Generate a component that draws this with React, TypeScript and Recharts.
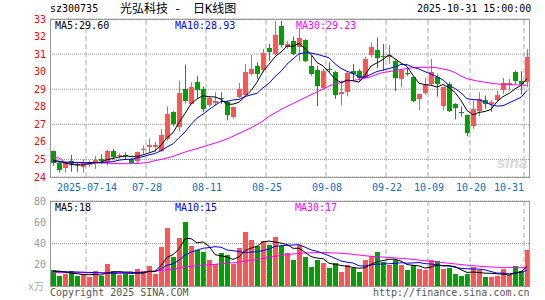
import React from "react";
import {
  Bar,
  CartesianGrid,
  ComposedChart,
  Line,
  ReferenceLine,
  XAxis,
  YAxis,
} from "recharts";

// trading days shown (2025)
const DATES = [
  "07-04", "07-07", "07-08", "07-09", "07-10", "07-11", "07-14", "07-15", "07-16", "07-17",
  "07-18", "07-21", "07-22", "07-23", "07-24", "07-25", "07-28", "07-29", "07-30", "07-31",
  "08-01", "08-04", "08-05", "08-06", "08-07", "08-08", "08-11", "08-12", "08-13", "08-14",
  "08-15", "08-18", "08-19", "08-20", "08-21", "08-22", "08-25", "08-26", "08-27", "08-28",
  "08-29", "09-01", "09-02", "09-03", "09-04", "09-05", "09-08", "09-09", "09-10", "09-11",
  "09-12", "09-15", "09-16", "09-17", "09-18", "09-19", "09-22", "09-23", "09-24", "09-25",
  "09-26", "09-29", "09-30", "10-09", "10-10", "10-13", "10-14", "10-15", "10-16", "10-17",
  "10-20", "10-21", "10-22", "10-23", "10-24", "10-27", "10-28", "10-29", "10-30", "10-31",
];

const TICK_DATES = ["07-14", "07-28", "08-11", "08-25", "09-08", "09-22", "10-09", "10-20", "10-31"];

const OPEN = [
  25.47, 24.8, 24.5, 24.9, 24.75, 24.55, 24.7, 24.8, 25.0, 24.87,
  25.48, 25.2, 25.25, 25.05, 24.87, 25.52, 25.68, 25.68, 25.53, 26.13,
  27.7, 26.85, 29.02, 28.21, 29.43, 29.02, 28.08, 28.21, 28.5, 28.26,
  27.42, 28.55, 28.64, 29.87, 30.34, 30.06, 31.32, 31.0, 32.6, 31.4,
  31.75, 31.38, 31.81, 30.34, 30.11, 29.11, 30.15, 30.0, 28.74, 28.83,
  30.05, 30.06, 29.68, 30.91, 31.25, 30.92, 30.85, 30.62, 29.58, 29.92,
  29.72, 28.42, 28.77, 29.3, 29.72, 28.02, 29.3, 28.13, 27.7, 27.51,
  26.94, 27.79, 28.4, 28.13, 28.42, 28.92, 29.25, 29.96, 29.45, 29.45,
];
const HIGH = [
  25.5, 24.85, 24.85, 25.25, 24.85, 25.0, 24.95, 25.2, 25.3, 25.55,
  25.6, 25.35, 25.4, 25.1, 25.45, 25.8, 26.19, 26.0, 26.72, 28.02,
  27.75, 29.49, 30.4, 29.4, 29.74, 29.15, 28.58, 28.83, 28.83, 28.36,
  28.0, 29.36, 30.43, 30.96, 30.53, 31.3, 31.57, 32.89, 32.89, 31.75,
  32.0, 32.51, 31.85, 30.91, 30.34, 30.15, 30.53, 30.05, 29.49, 30.0,
  30.43, 30.15, 30.85, 31.66, 31.94, 31.57, 31.53, 30.72, 30.15, 30.15,
  29.75, 28.75, 29.64, 30.72, 29.85, 29.15, 29.4, 28.2, 28.02, 27.55,
  28.36, 28.83, 28.64, 28.36, 28.92, 29.64, 29.58, 30.06, 30.02, 31.28,
];
const LOW = [
  24.65, 24.25, 24.25, 24.3, 24.3, 24.25, 24.55, 24.45, 24.75, 24.65,
  25.0, 25.05, 24.98, 24.8, 24.8, 25.3, 25.43, 25.43, 25.43, 26.06,
  26.89, 26.6, 28.23, 28.13, 28.45, 27.7, 27.98, 28.08, 28.17, 27.23,
  27.32, 28.5, 28.58, 29.77, 29.58, 29.96, 30.62, 30.94, 31.38, 31.3,
  30.95, 30.62, 30.53, 29.77, 28.04, 29.02, 29.96, 28.45, 28.08, 28.6,
  29.5, 29.49, 29.64, 30.81, 30.21, 30.06, 30.43, 28.89, 29.11, 29.77,
  28.26, 27.79, 28.68, 29.25, 28.58, 27.79, 27.7, 27.28, 27.45, 26.32,
  26.75, 27.45, 27.89, 27.7, 28.32, 28.74, 28.92, 29.3, 28.7, 29.11,
];
const CLOSE = [
  24.77, 24.4, 24.77, 24.75, 24.7, 24.8, 24.85, 24.95, 24.9, 25.47,
  25.15, 25.25, 25.2, 24.85, 25.4, 25.6, 25.81, 25.81, 26.42, 27.57,
  27.0, 28.77, 28.36, 29.15, 28.96, 27.89, 28.49, 28.32, 28.47, 27.51,
  27.98, 29.02, 29.96, 30.15, 29.87, 31.04, 31.09, 32.09, 31.51, 31.55,
  31.0, 31.89, 30.62, 29.87, 29.21, 30.06, 30.1, 28.68, 28.83, 29.91,
  29.9, 29.68, 30.75, 31.38, 30.81, 30.89, 30.96, 29.68, 30.09, 29.88,
  28.36, 28.7, 29.25, 29.96, 29.34, 29.11, 27.79, 27.89, 27.68, 26.47,
  27.89, 28.45, 28.17, 28.26, 28.68, 29.34, 29.36, 29.45, 29.26, 30.85,
];

const MA5 = [
  24.96, 24.9, 24.8, 24.72, 24.68, 24.69, 24.77, 24.81, 24.84, 24.99,
  25.06, 25.14, 25.19, 25.18, 25.17, 25.26, 25.37, 25.49, 25.81, 26.24,
  26.52, 27.11, 27.62, 28.17, 28.45, 28.63, 28.57, 28.56, 28.43, 28.14,
  28.15, 28.26, 28.59, 28.92, 29.4, 30.01, 30.42, 30.85, 31.12, 31.46,
  31.45, 31.61, 31.31, 30.99, 30.52, 30.33, 29.97, 29.58, 29.38, 29.52,
  29.48, 29.4, 29.81, 30.32, 30.5, 30.7, 30.96, 30.74, 30.49, 30.3,
  29.79, 29.34, 29.26, 29.23, 29.12, 29.27, 29.09, 28.82, 28.36, 27.79,
  27.54, 27.68, 27.73, 27.85, 28.29, 28.58, 28.76, 29.02, 29.22, 29.6,
];
const MA10 = [
  24.87, 24.86, 24.85, 24.84, 24.83, 24.82, 24.82, 24.82, 24.83, 24.84,
  24.88, 24.96, 25.0, 25.01, 25.08, 25.16, 25.26, 25.34, 25.5, 25.71,
  25.89, 26.24, 26.56, 26.99, 27.35, 27.58, 27.84, 28.09, 28.3, 28.3,
  28.39, 28.42, 28.58, 28.68, 28.77, 29.08, 29.34, 29.72, 30.02, 30.43,
  30.73, 31.02, 31.08, 31.06, 30.99, 30.89, 30.79, 30.45, 30.19, 30.02,
  29.91, 29.69, 29.7, 29.85, 30.01, 30.09, 30.18, 30.28, 30.41, 30.4,
  30.25, 30.15, 30.0, 29.86, 29.71, 29.53, 29.22, 29.04, 28.8, 28.46,
  28.41, 28.39, 28.28, 28.11, 28.04, 28.06, 28.22, 28.38, 28.54, 28.93,
];
const MA30 = [
  25.1, 25.08, 24.82, 24.81, 24.81, 24.81, 24.81, 24.8, 24.8, 24.79,
  24.77, 24.76, 24.76, 24.76, 24.77, 24.8, 24.84, 24.93, 25.0, 25.08,
  25.17, 25.3, 25.42, 25.52, 25.62, 25.72, 25.83, 25.93, 26.04, 26.17,
  26.32, 26.48, 26.64, 26.8, 26.98, 27.2, 27.45, 27.65, 27.85, 28.02,
  28.18, 28.35, 28.52, 28.68, 28.85, 29.0, 29.18, 29.3, 29.38, 29.45,
  29.5, 29.55, 29.62, 29.72, 29.85, 29.95, 30.0, 30.07, 30.12, 30.18,
  30.22, 30.24, 30.25, 30.25, 30.22, 30.15, 30.08, 29.95, 29.75, 29.6,
  29.52, 29.45, 29.4, 29.34, 29.3, 29.28, 29.26, 29.25, 29.24, 29.23,
];

// volume, 万手
const VOLUME = [
  14.7, 9.0, 11.5, 13.7, 9.0, 10.6, 8.1, 13.7, 9.7, 20.6,
  13.7, 10.0, 11.5, 10.0, 15.6, 13.7, 18.4, 11.5, 36.3, 54.5,
  26.9, 44.8, 59.9, 37.3, 34.1, 31.6, 24.1, 20.6, 31.0, 28.8,
  20.6, 35.7, 50.4, 42.9, 37.3, 42.0, 38.8, 45.7, 37.9, 31.0,
  24.1, 38.8, 26.9, 17.5, 24.1, 21.6, 16.9, 21.6, 12.8, 19.4,
  16.9, 12.8, 24.7, 27.9, 31.6, 22.5, 19.4, 24.7, 19.4, 14.7,
  19.4, 16.3, 14.7, 24.1, 23.8, 15.6, 16.9, 11.2, 9.0, 11.2,
  17.5, 14.7, 8.1, 8.1, 9.0, 15.9, 10.0, 18.4, 13.7, 33.5,
];
const VOL_MA5 = [
  14.1, 14.0, 13.2, 12.2, 11.58, 10.76, 10.58, 11.02, 10.22, 12.54,
  13.16, 13.54, 13.1, 13.16, 12.16, 12.16, 13.84, 13.84, 19.1, 26.88,
  29.52, 34.8, 44.48, 44.68, 40.6, 41.54, 37.4, 29.54, 28.28, 27.22,
  25.02, 27.34, 33.3, 35.68, 37.38, 41.66, 42.28, 41.34, 40.34, 39.08,
  35.5, 35.5, 31.74, 27.66, 26.28, 25.78, 21.4, 20.34, 19.4, 18.46,
  17.52, 16.7, 17.32, 20.34, 22.78, 23.9, 25.22, 25.22, 23.52, 20.14,
  19.52, 18.9, 16.9, 17.84, 19.66, 18.9, 19.02, 18.32, 15.3, 12.78,
  13.16, 12.72, 12.1, 11.92, 11.48, 11.16, 10.22, 12.28, 13.4, 18.3,
];
const VOL_MA10 = [
  13.6, 13.5, 13.4, 13.3, 13.2, 13.0, 12.8, 12.6, 12.3, 12.06,
  11.96, 12.06, 12.06, 11.69, 12.35, 12.66, 13.69, 13.47, 16.13, 19.52,
  20.84, 24.32, 29.16, 31.89, 33.74, 35.53, 36.1, 37.01, 36.48, 33.91,
  33.28, 32.37, 31.42, 31.98, 32.3, 33.34, 34.81, 37.32, 38.01, 38.23,
  38.58, 38.89, 36.54, 34.0, 32.68, 30.64, 28.45, 26.04, 23.53, 22.37,
  21.65, 19.05, 18.83, 19.87, 20.62, 20.71, 20.96, 21.27, 21.93, 21.46,
  21.71, 22.06, 21.06, 20.68, 19.9, 19.21, 18.96, 17.61, 16.57, 16.22,
  16.03, 15.87, 15.21, 13.61, 12.13, 12.16, 11.47, 12.19, 12.66, 14.89,
];
const VOL_MA30 = [
  12.6, 12.6, 12.6, 12.6, 12.5, 12.5, 12.5, 12.5, 12.5, 12.6,
  12.6, 12.6, 12.6, 12.7, 12.9, 13.2, 13.6, 14.0, 14.6, 15.4,
  16.0, 16.8, 17.8, 18.5, 19.1, 19.6, 20.0, 20.4, 20.9, 21.4,
  21.8, 22.4, 23.3, 24.2, 25.0, 25.9, 26.9, 27.9, 28.8, 29.6,
  30.2, 30.8, 31.1, 31.3, 31.4, 31.4, 31.3, 31.1, 30.8, 30.4,
  29.8, 29.1, 28.5, 28.0, 27.6, 27.2, 26.8, 26.4, 26.0, 25.6,
  25.0, 24.4, 23.8, 23.2, 22.6, 22.0, 21.4, 20.8, 20.2, 19.6,
  19.1, 18.6, 18.2, 17.9, 17.6, 17.4, 17.3, 17.2, 17.2, 17.3,
];

const PRICE_TICKS = [24, 25, 26, 27, 28, 29, 30, 31, 32, 33];
const VOL_TICKS = [20, 40, 60, 80];

const UP = "#ff5454";
const DOWN = "#00a000";
const MONO = '"DejaVu Sans Mono", "Noto Sans CJK SC", monospace';

const rows = DATES.map((date, i) => ({
  date,
  open: OPEN[i],
  high: HIGH[i],
  low: LOW[i],
  close: CLOSE[i],
  up: CLOSE[i] >= OPEN[i],
  range: [LOW[i], HIGH[i]],
  ma5: MA5[i],
  ma10: MA10[i],
  ma30: MA30[i],
  vol: VOLUME[i],
  vma5: VOL_MA5[i],
  vma10: VOL_MA10[i],
  vma30: VOL_MA30[i],
}));

function Candle(props: any) {
  const { x, y, width, height, payload } = props;
  if (x == null || !payload) return null;
  const top = Math.min(y, y + height);
  const span = Math.abs(height);
  const { open, close, high, low, up } = payload;
  const color = up ? UP : DOWN;
  const perUnit = high > low ? span / (high - low) : 0;
  const bodyTop = top + (high - Math.max(open, close)) * perUnit;
  const bodyH = Math.abs(close - open) * perUnit;
  const left = Math.floor(x);
  const w = Math.round(width);
  const cx = left + Math.floor(w / 2) + 0.5;
  return (
    <g>
      <line x1={cx} x2={cx} y1={top} y2={top + span} stroke={color} strokeWidth={1} />
      <rect x={left} y={Math.round(bodyTop)} width={w} height={Math.max(1, Math.round(bodyH))} fill={color} />
    </g>
  );
}

function VolumeBar(props: any) {
  const { x, y, width, height, payload } = props;
  if (x == null || !payload) return null;
  return (
    <rect
      x={Math.floor(x)}
      y={Math.round(y)}
      width={Math.round(width)}
      height={Math.round(height)}
      fill={payload.up ? UP : DOWN}
    />
  );
}

// date label; the last one is kept inside the frame
function DateTick(props: any) {
  const { x, y, payload } = props;
  const d = payload.value as string;
  const last = d === TICK_DATES[TICK_DATES.length - 1];
  const label = d === TICK_DATES[0] ? `2025-${d}` : d;
  return (
    <text
      x={last ? x - 3 : x - 2}
      y={y}
      dy="0.71em"
      textAnchor={last ? "end" : "middle"}
      fontSize={10}
      fontFamily={MONO}
      fill="#0a70c8"
    >
      {label}
    </text>
  );
}

const text = (left: number, top: number, color: string, size = 10): React.CSSProperties => ({
  position: "absolute",
  left,
  top,
  color,
  fontSize: size,
  lineHeight: `${size}px`,
  fontFamily: MONO,
  whiteSpace: "pre",
});

export default function App() {
  return (
    <div
      style={{
        position: "fixed",
        left: 0,
        top: 0,
        width: 545,
        height: 300,
        background: "#fff",
        overflow: "hidden",
      }}
    >
      <div style={{ position: "absolute", left: 0, top: 0 }}>
        <ComposedChart width={545} height={200} data={rows} margin={{ top: 19, right: 15, bottom: 3, left: 0 }}>
          <CartesianGrid vertical={false} stroke="#999" strokeDasharray="1 1" />
          <XAxis
            dataKey="date"
            ticks={TICK_DATES}
            interval={0}
            axisLine={false}
            tickLine={false}
            tickSize={0}
            tickMargin={7}
            height={20}
            tick={<DateTick />}
          />
          <YAxis
            domain={[24, 33]}
            ticks={PRICE_TICKS}
            allowDataOverflow
            width={50}
            axisLine={false}
            tickLine={false}
            tickSize={0}
            tickMargin={4}
            tick={{ fontSize: 10, fill: "#ff0000", fontFamily: MONO }}
          />
          {TICK_DATES.map((d) => (
            <ReferenceLine key={d} x={d} position="start" stroke="#aaa" strokeDasharray="5 3" />
          ))}
          <Bar dataKey="range" barSize={5} shape={Candle} isAnimationActive={false} />
          <Line dataKey="ma30" stroke="#ff00ff" strokeWidth={1} dot={false} activeDot={false} isAnimationActive={false} />
          <Line dataKey="ma10" stroke="#0000ff" strokeWidth={1} dot={false} activeDot={false} isAnimationActive={false} />
          <Line dataKey="ma5" stroke="#000" strokeWidth={1} dot={false} activeDot={false} isAnimationActive={false} />
        </ComposedChart>
      </div>

      <div style={{ position: "absolute", left: 0, top: 195 }}>
        <ComposedChart width={545} height={105} data={rows} margin={{ top: 6, right: 15, bottom: 14, left: 0 }}>
          <CartesianGrid vertical={false} stroke="#999" strokeDasharray="1 1" />
          <XAxis dataKey="date" hide />
          <YAxis
            domain={[0, 80]}
            ticks={VOL_TICKS}
            width={50}
            axisLine={false}
            tickLine={false}
            tickSize={0}
            tickMargin={4}
            tick={{ fontSize: 10, fill: "#999", fontFamily: MONO }}
          />
          {TICK_DATES.map((d) => (
            <ReferenceLine key={d} x={d} position="start" stroke="#aaa" strokeDasharray="5 3" />
          ))}
          <Bar dataKey="vol" barSize={5} shape={VolumeBar} isAnimationActive={false} />
          <Line dataKey="vma30" stroke="#ff00ff" strokeWidth={1} dot={false} activeDot={false} isAnimationActive={false} />
          <Line dataKey="vma10" stroke="#0000ff" strokeWidth={1} dot={false} activeDot={false} isAnimationActive={false} />
          <Line dataKey="vma5" stroke="#000" strokeWidth={1} dot={false} activeDot={false} isAnimationActive={false} />
        </ComposedChart>
      </div>

      {/* frames */}
      <div style={{ position: "absolute", left: 50, top: 19, width: 480, height: 159, border: "1px solid #999", boxSizing: "border-box" }} />
      <div style={{ position: "absolute", left: 50, top: 201, width: 480, height: 86, border: "1px solid #999", boxSizing: "border-box" }} />

      {/* header */}
      <div style={text(50, 4, "#000")}>sz300735</div>
      <div style={text(120, 3, "#000", 12)}>光弘科技</div>
      <div style={text(174, 3, "#000", 12)}>-</div>
      <div style={text(193, 3, "#000", 12)}>日K线图</div>
      <div style={text(417, 4, "#000")}>2025-10-31 15:00:00</div>

      {/* legends */}
      <div style={text(55, 21, "#000")}>MA5:29.60</div>
      <div style={text(175, 21, "#0000ff")}>MA10:28.93</div>
      <div style={text(296, 21, "#ff00ff")}>MA30:29.23</div>
      <div style={text(55, 203, "#000")}>MA5:18</div>
      <div style={text(175, 203, "#0000ff")}>MA10:15</div>
      <div style={text(295, 203, "#ff00ff")}>MA30:17</div>

      {/* watermark */}
      <div
        style={{
          position: "absolute",
          left: 497,
          top: 155,
          fontSize: 15,
          fontWeight: "bold",
          fontStyle: "italic",
          color: "#d8d8d8",
          fontFamily: "Arial, sans-serif",
          lineHeight: "15px",
        }}
      >
        sina
      </div>

      {/* footer */}
      <div style={text(28, 282, "#aaa")}>x万</div>
      <div style={text(50, 288, "#555")}>Copyright 2025 SINA.COM</div>
      <div style={text(373, 288, "#555")}>http://finance.sina.com.cn</div>
    </div>
  );
}
